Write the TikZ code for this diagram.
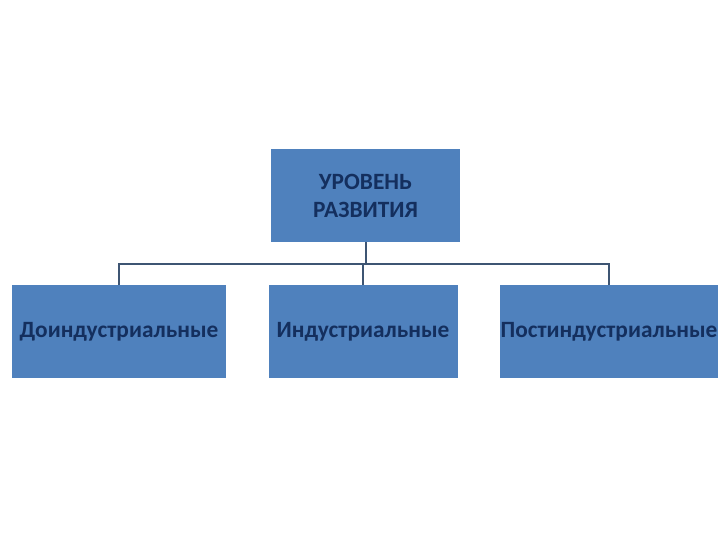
\documentclass[tikz,border=0pt]{standalone}
\usepackage{fontspec}
\setmainfont{Carlito}
\definecolor{boxfill}{HTML}{4F81BD}
\definecolor{boxtext}{HTML}{142F5E}
\definecolor{linecol}{HTML}{3E5573}
\begin{document}
\begin{tikzpicture}[x=0.75pt,y=-0.75pt,
  box/.style={fill=boxfill, draw=none, inner sep=0pt, text=boxtext, font=\bfseries\fontsize{17.5}{21}\selectfont, align=center},
  conn/.style={draw=linecol, line width=1.3pt}]
\useasboundingbox (0,0) rectangle (720,540);
\node[box, minimum width=189*0.75pt, minimum height=93*0.75pt] (top) at (365.5,195.5) {УРОВЕНЬ\\РАЗВИТИЯ};
\node[box, minimum width=214*0.75pt, minimum height=93*0.75pt] (a) at (119,331.5) {Доиндустриальные};
\node[box, minimum width=189*0.75pt, minimum height=93*0.75pt] (b) at (363,331.5) {Индустриальные};
\node[box, minimum width=218*0.75pt, minimum height=93*0.75pt] (c) at (609,331.5) {Постиндустриальные};
\coordinate (j) at (366,264);
\draw[conn] ([xshift=0.5*0.75pt]top.south) -- (j);
\draw[conn] (a.north) -- (a.north |- j) -- (c.north |- j) -- (c.north);
\draw[conn] (b.north) -- (b.north |- j);
\end{tikzpicture}
\end{document}
